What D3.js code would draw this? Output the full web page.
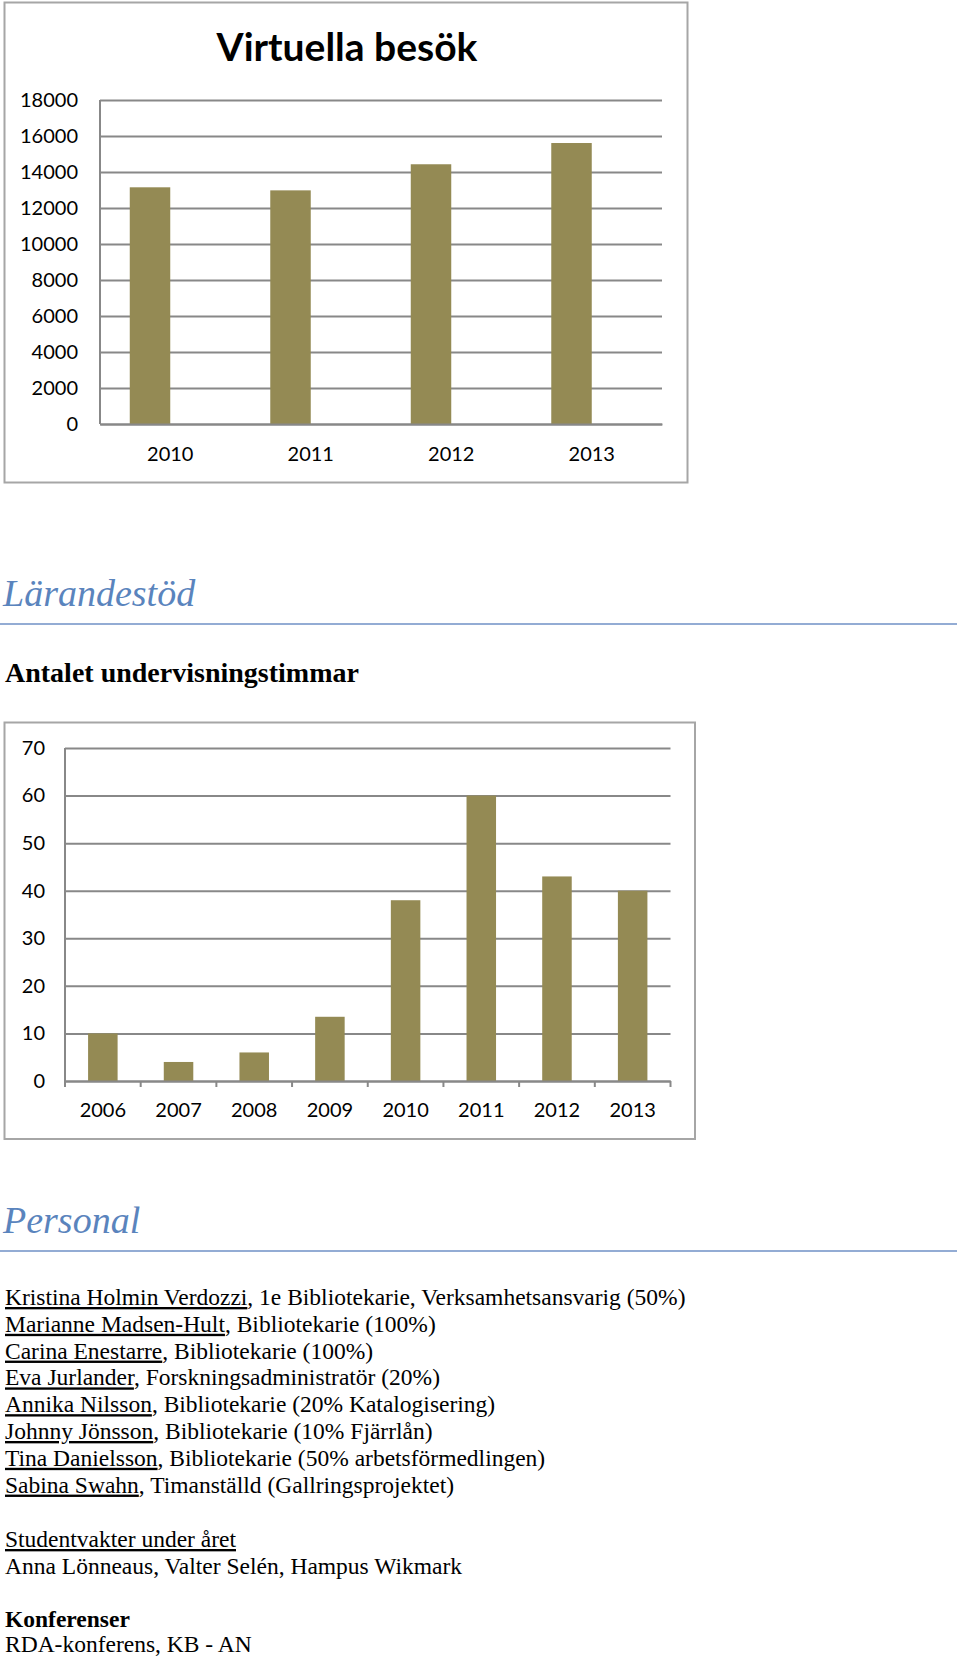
<!DOCTYPE html>
<html>
<head>
<meta charset="utf-8">
<script src="https://cdn.jsdelivr.net/npm/d3@7"></script>
<style>
  body { margin: 0; background: #fff; }
  svg text { fill: #000; }
  .serif { font-family: "Liberation Serif", "Times New Roman", serif; }
  .calib { font-family: Lato, "Open Sans", sans-serif; }
</style>
</head>
<body>
<div id="page"></div>
<script>
// chart 1: Virtuella besök
const visitYears = ["2010", "2011", "2012", "2013"];
const visitValues = [13150, 12980, 14430, 15610];
const visitTicks = [0, 2000, 4000, 6000, 8000, 10000, 12000, 14000, 16000, 18000];

// chart 2: Antalet undervisningstimmar
const teachYears = ["2006", "2007", "2008", "2009", "2010", "2011", "2012", "2013"];
const teachValues = [10, 4, 6, 13.5, 38, 60, 43, 40];
const teachTicks = [0, 10, 20, 30, 40, 50, 60, 70];

// staff list
const staffNames = ["Kristina Holmin Verdozzi", "Marianne Madsen-Hult", "Carina Enestarre", "Eva Jurlander",
  "Annika Nilsson", "Johnny Jönsson", "Tina Danielsson", "Sabina Swahn"];
const staffRoles = [", 1e Bibliotekarie, Verksamhetsansvarig (50%)", ", Bibliotekarie (100%)", ", Bibliotekarie (100%)",
  ", Forskningsadministratör (20%)", ", Bibliotekarie (20% Katalogisering)", ", Bibliotekarie (10% Fjärrlån)",
  ", Bibliotekarie (50% arbetsförmedlingen)", ", Timanställd (Gallringsprojektet)"];

const barColor = "#948a54";
const gridColor = "#888888";
const headColor = "#5a84bd";

const svg = d3.select("#page").append("svg")
  .attr("width", 960)
  .attr("height", 1658);

// ---------- chart 1 ----------
svg.append("rect")
  .attr("x", 4.5).attr("y", 2.5).attr("width", 683).attr("height", 480)
  .attr("fill", "none").attr("stroke", "#a6a6a6").attr("stroke-width", 2);

svg.append("text")
  .attr("class", "calib")
  .attr("x", 347).attr("y", 61)
  .attr("text-anchor", "middle")
  .style("font-size", "39px").style("font-weight", "bold")
  .text("Virtuella besök");

var x1 = d3.scaleBand().domain(visitYears).range([100, 662]);
var x1s = d3.scaleBand().domain(["besok", "tom"]).range([0, x1.bandwidth()])
  .paddingInner(0).paddingOuter(0.735);
var y1 = d3.scaleLinear().domain([0, 18000]).range([424, 100]);

var g1 = svg.append("g");
g1.append("g")
  .attr("transform", "translate(100,0)")
  .call(d3.axisLeft(y1).tickValues(visitTicks).tickSize(-562).tickPadding(22).tickFormat(d3.format("d")))
  .call(g => g.select(".domain").remove())
  .call(g => g.selectAll(".tick line").attr("stroke", gridColor).attr("stroke-width", 2))
  .call(g => g.selectAll(".tick text").attr("class", "calib").style("font-size", "20px").attr("fill", "#000"));

g1.append("line")
  .attr("x1", 100).attr("x2", 100).attr("y1", y1(18000)).attr("y2", y1(0))
  .attr("stroke", gridColor).attr("stroke-width", 2);

g1.selectAll("rect.bar")
  .data(visitValues)
  .enter()
  .append("rect")
  .attr("class", "bar")
  .attr("x", (d, i) => x1(visitYears[i]) + x1s("besok"))
  .attr("y", d => y1(d))
  .attr("width", x1s.bandwidth())
  .attr("height", d => y1(0) - y1(d))
  .attr("fill", barColor);

g1.append("g")
  .attr("transform", "translate(0,424)")
  .call(d3.axisBottom(x1).tickSize(0).tickPadding(23))
  .call(g => g.select(".domain").attr("stroke", gridColor).attr("stroke-width", 2))
  .call(g => g.selectAll(".tick text").attr("class", "calib").style("font-size", "20px").attr("fill", "#000"));

// ---------- section heading ----------
svg.append("text").attr("class", "serif")
  .attr("x", 3).attr("y", 606)
  .style("font-size", "38px").style("font-style", "italic").style("fill", headColor)
  .text("Lärandestöd");
svg.append("line").attr("x1", 0).attr("x2", 957).attr("y1", 624).attr("y2", 624)
  .attr("stroke", "#6f90c6").attr("stroke-width", 1.5);

svg.append("text").attr("class", "serif")
  .attr("x", 5).attr("y", 682)
  .style("font-size", "28px").style("font-weight", "bold")
  .text("Antalet undervisningstimmar");

// ---------- chart 2 ----------
svg.append("rect")
  .attr("x", 4.5).attr("y", 722.5).attr("width", 690.5).attr("height", 416.5)
  .attr("fill", "none").attr("stroke", "#a6a6a6").attr("stroke-width", 2);

var x2 = d3.scaleBand().domain(teachYears).range([65, 670.5]).paddingInner(0.61).paddingOuter(0.305);
var x2step = d3.scaleBand().domain(teachYears).range([65, 670.5]);
var y2 = d3.scaleLinear().domain([0, 70]).range([1081, 748]);

var g2 = svg.append("g");
g2.append("g")
  .attr("transform", "translate(65,0)")
  .call(d3.axisLeft(y2).tickValues(teachTicks).tickSize(-605.5).tickPadding(20))
  .call(g => g.select(".domain").remove())
  .call(g => g.selectAll(".tick line").attr("stroke", gridColor).attr("stroke-width", 2))
  .call(g => g.selectAll(".tick text").attr("class", "calib").style("font-size", "20px").attr("fill", "#000"));

g2.append("line")
  .attr("x1", 65).attr("x2", 65).attr("y1", y2(70)).attr("y2", y2(0) + 6)
  .attr("stroke", gridColor).attr("stroke-width", 2);

g2.selectAll("rect.bar")
  .data(teachValues)
  .enter()
  .append("rect")
  .attr("class", "bar")
  .attr("x", (d, i) => x2(teachYears[i]))
  .attr("y", d => y2(d))
  .attr("width", x2.bandwidth())
  .attr("height", d => y2(0) - y2(d))
  .attr("fill", barColor);

var xa2 = g2.append("g")
  .attr("transform", "translate(0,1081)")
  .call(d3.axisBottom(x2).tickSize(0).tickPadding(22))
  .call(g => g.select(".domain").attr("stroke", gridColor).attr("stroke-width", 2))
  .call(g => g.selectAll(".tick text").attr("class", "calib").style("font-size", "20px").attr("fill", "#000"));

// tick marks between categories
xa2.selectAll("line.sep")
  .data(teachYears)
  .enter()
  .append("line")
  .attr("class", "sep")
  .attr("x1", d => x2step(d) + x2step.bandwidth())
  .attr("x2", d => x2step(d) + x2step.bandwidth())
  .attr("y1", 0).attr("y2", 6)
  .attr("stroke", gridColor).attr("stroke-width", 2);

// ---------- Personal ----------
svg.append("text").attr("class", "serif")
  .attr("x", 3).attr("y", 1233)
  .style("font-size", "38px").style("font-style", "italic").style("fill", headColor)
  .text("Personal");
svg.append("line").attr("x1", 0).attr("x2", 957).attr("y1", 1251).attr("y2", 1251)
  .attr("stroke", "#6f90c6").attr("stroke-width", 1.5);

var staff = svg.append("g").attr("class", "serif").style("font-size", "23.5px");
staffNames.forEach(function (name, i) {
  var t = staff.append("text").attr("x", 5).attr("y", 1305 + i * 26.8);
  t.append("tspan").style("text-decoration", "underline").text(name);
  t.append("tspan").text(staffRoles[i]);
});

var t2 = staff.append("text").attr("x", 5).attr("y", 1547);
t2.append("tspan").style("text-decoration", "underline").text("Studentvakter under året");
staff.append("text").attr("x", 5).attr("y", 1574).text("Anna Lönneaus, Valter Selén, Hampus Wikmark");
staff.append("text").attr("x", 5).attr("y", 1627).style("font-weight", "bold").text("Konferenser");
staff.append("text").attr("x", 5).attr("y", 1652).text("RDA-konferens, KB - AN");
</script>
</body>
</html>
